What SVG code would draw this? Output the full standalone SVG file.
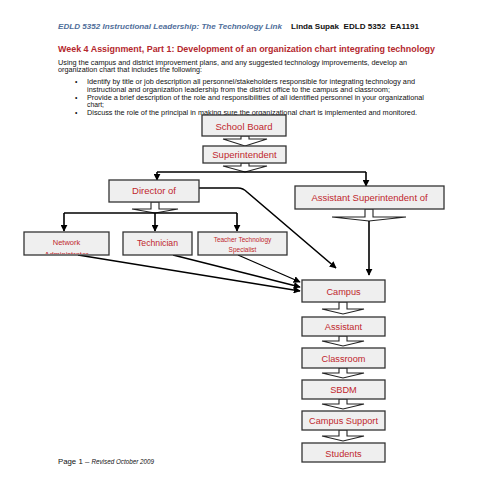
<svg xmlns="http://www.w3.org/2000/svg" width="495" height="495" viewBox="0 0 495 495">
<style>
.box{fill:#efefef;stroke:#333;stroke-width:1.3}
.lbl{font-family:"Liberation Sans",Arial,sans-serif;fill:#c0272d;text-anchor:middle}
.body{font-family:"Liberation Sans",Arial,sans-serif;fill:#111;font-size:6.8px}
.blk{fill:#fff;stroke:#222;stroke-width:1.1}
.con{fill:none;stroke:#000;stroke-width:1.6}
.thin{fill:none;stroke:#000;stroke-width:1.3}
</style>
<defs>
<marker id="ah" viewBox="0 0 10 10" refX="9" refY="5" markerWidth="7" markerHeight="7" markerUnits="userSpaceOnUse" orient="auto"><path d="M0,0 L10,5 L0,10 z" fill="#000"/></marker>
<clipPath id="netclip"><rect x="24" y="232" width="85" height="22"/></clipPath>
</defs>
<rect width="495" height="495" fill="#fff"/>
<g id="header">
<text x="58" y="29" font-family="Liberation Sans,Arial,sans-serif" font-size="7.5" font-weight="bold" font-style="italic" fill="#4f6e9a" textLength="224" lengthAdjust="spacingAndGlyphs">EDLD 5352 Instructional Leadership: The Technology Link</text>
<text x="291" y="29" font-family="Liberation Sans,Arial,sans-serif" font-size="7.5" font-weight="bold" fill="#111" textLength="128" lengthAdjust="spacingAndGlyphs">Linda Supak&#160; EDLD 5352&#160; EA1191</text>
<text x="58" y="52" font-family="Liberation Sans,Arial,sans-serif" font-size="9.5" font-weight="bold" fill="#b4282e" textLength="377" lengthAdjust="spacingAndGlyphs">Week 4 Assignment, Part 1: Development of an organization chart integrating technology</text>
<text class="body" x="58" y="64.5" textLength="349" lengthAdjust="spacingAndGlyphs">Using the campus and district improvement plans, and any suggested technology improvements, develop an</text>
<text class="body" x="58" y="72" textLength="144" lengthAdjust="spacingAndGlyphs">organization chart that includes the following:</text>
<text class="body" x="75" y="83.5">•</text>
<text class="body" x="87" y="83.5" textLength="328" lengthAdjust="spacingAndGlyphs">Identify by title or job description all personnel/stakeholders responsible for integrating technology and</text>
<text class="body" x="87" y="91.5" textLength="303" lengthAdjust="spacingAndGlyphs">instructional and organization leadership from the district office to the campus and classroom;</text>
<text class="body" x="75" y="99.5">•</text>
<text class="body" x="87" y="99.5" textLength="337" lengthAdjust="spacingAndGlyphs">Provide a brief description of the role and responsibilities of all identified personnel in your organizational</text>
<text class="body" x="87" y="106.5">chart;</text>
<text class="body" x="75" y="114.5">•</text>
<text class="body" x="87" y="114.5" textLength="330" lengthAdjust="spacingAndGlyphs">Discuss the role of the principal in making sure the organizational chart is implemented and monitored.</text>
</g>
<g id="connectors">
<polygon class="blk" points="241,136 241,139 223,139 245,146 267,139 249,139 249,136"/>
<polygon class="blk" points="241,163 241,166 223,166 245,172 267,166 249,166 249,163"/>
<polyline class="con" points="157,172 366,172"/>
<line class="con" x1="157" y1="172" x2="157" y2="180" marker-end="url(#ah)"/>
<line class="con" x1="366" y1="172" x2="366" y2="186" marker-end="url(#ah)"/>
<polygon class="blk" points="151,202 151,209 132,209 155,213 178,209 159,209 159,202"/>
<line class="con" x1="64" y1="213" x2="237" y2="213"/>
<line class="con" x1="64" y1="213" x2="64" y2="231" marker-end="url(#ah)"/>
<line class="con" x1="155" y1="213" x2="155" y2="231" marker-end="url(#ah)"/>
<line class="con" x1="237" y1="213" x2="237" y2="231" marker-end="url(#ah)"/>
<path class="con" d="M199,188 L238,188 Q243,188 247,192 L336,268" marker-end="url(#ah)"/>
<polygon class="blk" points="365,209 365,217 332,217 369,221 406,217 373,217 373,209"/>
<line class="con" x1="369" y1="221" x2="369" y2="275" marker-end="url(#ah)"/>
<line class="thin" x1="78" y1="255" x2="300" y2="291" marker-end="url(#ah)"/>
<line class="thin" x1="173" y1="255" x2="300" y2="287" marker-end="url(#ah)"/>
<line class="thin" x1="238" y1="255" x2="300" y2="282" marker-end="url(#ah)"/>
<polygon class="blk" points="339,302 339,309 322,309 343,314 364,309 347,309 347,302"/>
<polygon class="blk" points="339,336 339,341 322,341 343,346 364,341 347,341 347,336"/>
<polygon class="blk" points="339,368 339,373 322,373 343,378 364,373 347,373 347,368"/>
<polygon class="blk" points="339,399 339,404 322,404 343,409 364,404 347,404 347,399"/>
<polygon class="blk" points="339,430 339,436 322,436 343,441 364,436 347,436 347,430"/>
</g>
<g id="school-board"><rect class="box" x="202" y="115" width="84" height="21"/><text class="lbl" x="244" y="130" font-size="9.5">School Board</text></g>
<g id="superintendent"><rect class="box" x="203" y="146" width="83" height="17"/><text class="lbl" x="244.5" y="158" font-size="9.5">Superintendent</text></g>
<g id="director"><rect class="box" x="109" y="180" width="90" height="22"/><text class="lbl" x="154" y="194" font-size="9.5">Director of</text></g>
<g id="asst-super"><rect class="box" x="295" y="186" width="149" height="23"/><text class="lbl" x="369.5" y="200.5" font-size="9.5">Assistant Superintendent of</text></g>
<g id="network-admin"><rect class="box" x="24" y="232" width="85" height="23"/><g clip-path="url(#netclip)"><text class="lbl" x="66.5" y="245" font-size="7.5">Network</text><text class="lbl" x="66.5" y="257" font-size="7.5">Administrator</text></g></g>
<g id="technician"><rect class="box" x="123" y="232" width="69" height="23"/><text class="lbl" x="157.5" y="246" font-size="8.7">Technician</text></g>
<g id="teacher-tech"><rect class="box" x="198" y="232" width="89" height="23"/><text class="lbl" x="242.5" y="242" font-size="6.5">Teacher Technology</text><text class="lbl" x="242.5" y="251.5" font-size="6.5">Specialist</text></g>
<g id="campus"><rect class="box" x="302" y="280" width="83" height="22"/><text class="lbl" x="343.5" y="294.5" font-size="9.2">Campus</text></g>
<g id="assistant"><rect class="box" x="302" y="317" width="83" height="19"/><text class="lbl" x="343.5" y="330" font-size="9.2">Assistant</text></g>
<g id="classroom"><rect class="box" x="302" y="348" width="83" height="20"/><text class="lbl" x="343.5" y="361.5" font-size="9.2">Classroom</text></g>
<g id="sbdm"><rect class="box" x="302" y="380" width="83" height="19"/><text class="lbl" x="343.5" y="393" font-size="9.2">SBDM</text></g>
<g id="campus-support"><rect class="box" x="302" y="411" width="83" height="19"/><text class="lbl" x="343.5" y="424" font-size="9.2">Campus Support</text></g>
<g id="students"><rect class="box" x="302" y="443" width="83" height="19"/><text class="lbl" x="343.5" y="456.5" font-size="9.2">Students</text></g>
<g id="footer"><text x="58" y="464" font-family="Liberation Sans,Arial,sans-serif" font-size="7.8" fill="#111">Page 1 – <tspan font-style="italic" font-size="6.3">Revised October 2009</tspan></text></g>
</svg>
